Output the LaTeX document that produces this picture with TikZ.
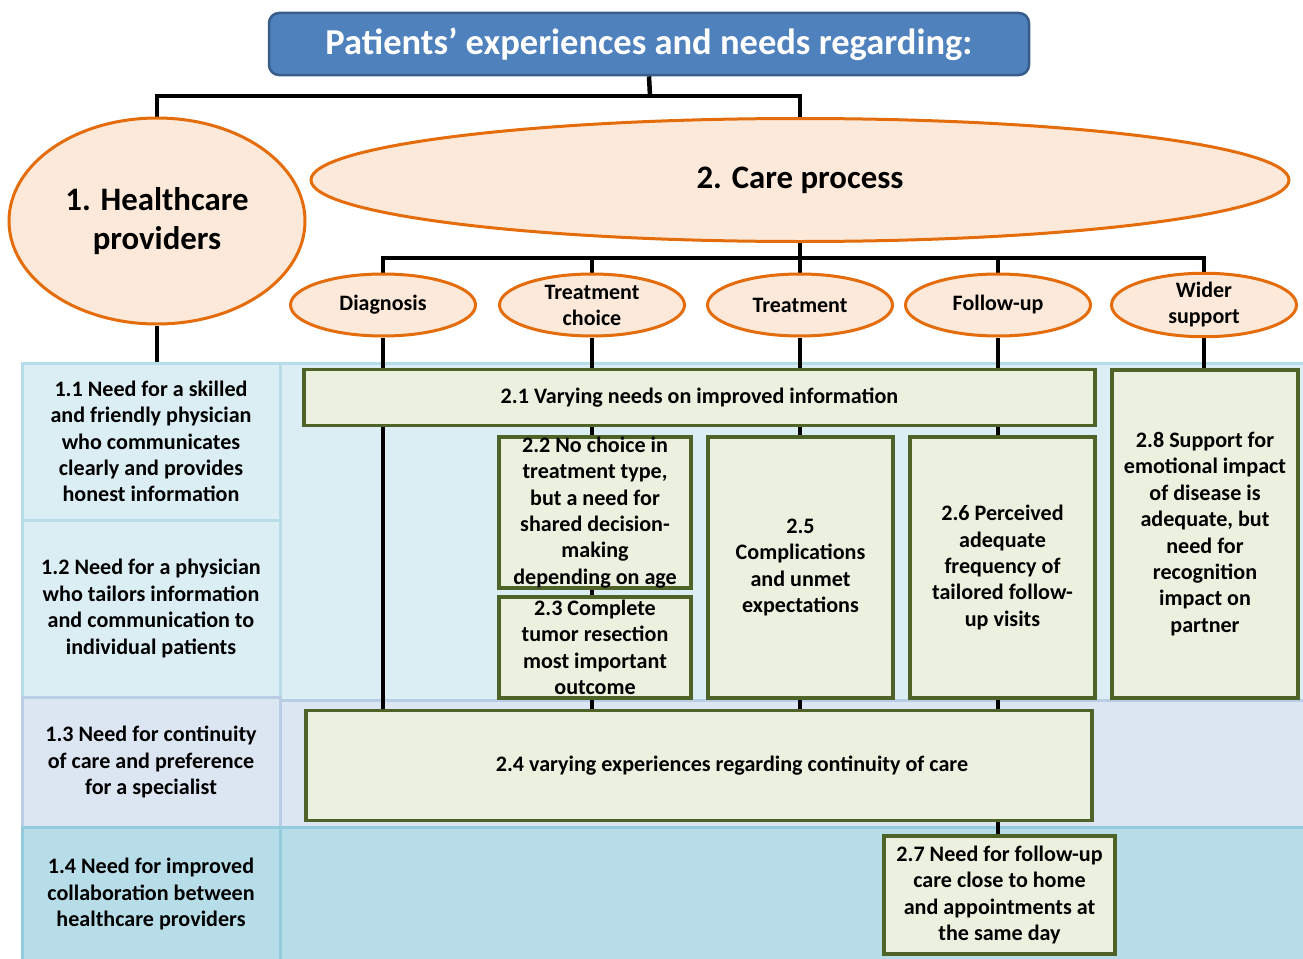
\documentclass[tikz,border=0pt]{standalone}
\usepackage{fontspec}
\setmainfont{Carlito}
\usetikzlibrary{shapes.geometric}
\pgfdeclarelayer{back}
\pgfdeclarelayer{mid}
\pgfsetlayers{back,mid,main}
\definecolor{titlefill}{HTML}{4F81BD}
\definecolor{titledraw}{HTML}{385D8A}
\definecolor{orangedraw}{HTML}{E46C0A}
\definecolor{orangefill}{HTML}{FDE9D9}
\definecolor{greendraw}{HTML}{4F6228}
\definecolor{greenfill}{HTML}{EBF1DE}
\definecolor{rowA}{HTML}{DAEEF3}
\definecolor{rowAline}{HTML}{B7DDE8}
\definecolor{rowC}{HTML}{DCE6F2}
\definecolor{rowCline}{HTML}{B9CDE5}
\definecolor{rowD}{HTML}{B7DDE8}
\definecolor{rowDline}{HTML}{93CDDD}
\tikzset{
  bodytext/.style={font=\bfseries\fontsize{22.1}{26.4}\selectfont, align=center, text=black},
  greenbox/.style={bodytext, rectangle, draw=greendraw, fill=greenfill, line width=3.5pt, inner sep=0pt},
  oval/.style={ellipse, draw=orangedraw, fill=orangefill, line width=3pt, inner sep=0pt, align=center},
  bigoval/.style={oval, font=\bfseries\fontsize{32.8}{39}\selectfont},
  smalloval/.style={oval, minimum width=185, minimum height=62, font=\bfseries\fontsize{22}{26}\selectfont},
  conn/.style={line width=4.5pt, black},
  cellA/.style={bodytext, rectangle, fill=rowA, draw=rowAline, line width=3pt, minimum width=258, inner sep=0pt},
  cellC/.style={bodytext, rectangle, fill=rowC, draw=rowCline, line width=3pt, minimum width=258, inner sep=0pt},
  cellD/.style={bodytext, rectangle, fill=rowD, draw=rowDline, line width=3pt, minimum width=258, inner sep=0pt},
  titlebox/.style={rectangle, rounded corners=10pt, fill=titlefill, draw=titledraw, line width=2.5pt,
    text=white, font=\bfseries\fontsize{36.5}{42}\selectfont, minimum width=760, minimum height=62}
}
\begin{document}
\begin{tikzpicture}[x=1pt,y=-1pt]
\useasboundingbox (0,0) rectangle (1303,958);

% title
\node[titlebox] (title) at (649,44) {Patients’ experiences and needs regarding:};

% main ovals
\node[bigoval, minimum width=296, minimum height=206] (hc) at (157,221) {1. Healthcare\\providers};
\node[bigoval, minimum width=978, minimum height=123] (cp) at (800,180) {2. Care process};

% small ovals
\node[smalloval] (diag) at (383,305) {Diagnosis};
\node[smalloval] (tc) at (592,305) {Treatment\\choice};
\node[smalloval] (tr) at (800,305) {Treatment};
\node[smalloval] (fu) at (998,305) {Follow-up};
\node[smalloval] (ws) at (1204,305) {Wider\\support};

% green boxes
\node[greenbox, minimum width=791, minimum height=56] (b21) at (699.5,397.5) {2.1 Varying needs on improved information};
\node[greenbox, minimum width=192, minimum height=151] (b22) at (595,512.5) {2.2 No choice in\\treatment type,\\but a need for\\shared decision-\\making\\depending on age};
\node[greenbox, minimum width=192, minimum height=101] (b23) at (595,647.5) {2.3 Complete\\tumor resection\\most important\\outcome};
\node[greenbox, minimum width=185, minimum height=261] (b25) at (800.5,567.5) {2.5\\Complications\\and unmet\\expectations};
\node[greenbox, minimum width=185, minimum height=261] (b26) at (1002.5,567.5) {2.6 Perceived\\adequate\\frequency of\\tailored follow-\\up visits};
\node[greenbox, minimum width=186, minimum height=328] (b28) at (1205,534) {2.8 Support for\\emotional impact\\of disease is\\adequate, but\\need for\\recognition\\impact on\\partner};
\node[greenbox, minimum width=786, minimum height=110] (b24) at (699,765.5) {\hspace*{66pt}2.4 varying experiences regarding continuity of care};
\node[greenbox, minimum width=231, minimum height=118] (b27) at (999.5,895) {2.7 Need for follow-up\\care close to home\\and appointments at\\the same day};

\begin{pgfonlayer}{back}
  \fill[rowA, draw=rowAline, line width=3pt] (280,363) rectangle (1306,700);
  \fill[rowC, draw=rowCline, line width=3pt] (280,700) rectangle (1306,827);
  \fill[rowD, draw=rowDline, line width=3pt] (280,827) rectangle (1306,961);
  \node[cellA, minimum height=157] (c11) at (151,441.5) {1.1 Need for a skilled\\and friendly physician\\who communicates\\clearly and provides\\honest information};
  \node[cellA, minimum height=177] (c12) at (151,608.5) {1.2 Need for a physician\\who tailors information\\and communication to\\individual patients};
  \node[cellC, minimum height=130] (c13) at (151,762) {1.3 Need for continuity\\of care and preference\\for a specialist};
  \node[cellD, minimum height=134] (c14) at (151,894) {1.4 Need for improved\\collaboration between\\healthcare providers};
\end{pgfonlayer}

\begin{pgfonlayer}{mid}
  \coordinate (j1) at (650,96);
  \coordinate (j2) at (800,258);
  \draw[conn] (title.south) -- (j1);
  \draw[conn] (hc.north) -- (hc.north |- j1) -- (cp.north |- j1) -- (cp.north);
  \draw[conn] (cp.south) -- (j2);
  \draw[conn] (diag.north) -- (diag.north |- j2) -- (ws.north |- j2) -- (ws.north);
  \draw[conn] (tc.north) -- (tc.north |- j2);
  \draw[conn] (tr.north) -- (tr.north |- j2);
  \draw[conn] (fu.north) -- (fu.north |- j2);
  \draw[conn] (hc.south) -- (hc.south |- c11.north);
  \draw[conn] (diag.south) -- (diag.south |- b24.north);
  \draw[conn] (tc.south) -- (tc.south |- b24.north);
  \draw[conn] (tr.south) -- (tr.south |- b24.north);
  \draw[conn] (fu.south) -- (fu.south |- b27.north);
  \draw[conn] (ws.south) -- (ws.south |- b28.north);
\end{pgfonlayer}
\end{tikzpicture}
\end{document}
